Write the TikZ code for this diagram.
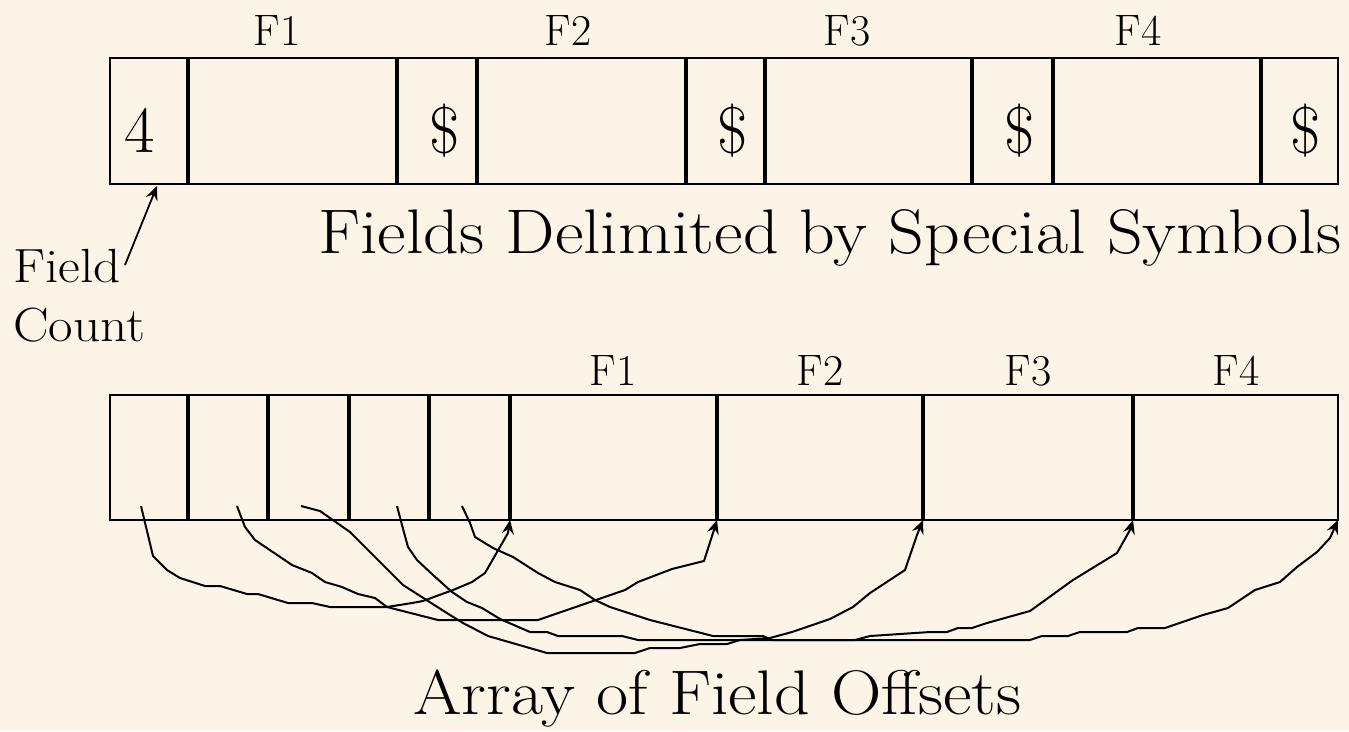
\documentclass[tikz,border=0pt]{standalone}
\usetikzlibrary{arrows.meta,positioning}
\definecolor{paper}{HTML}{FDF4E8}
\newcommand{\widetext}[1]{\scalebox{1.11}[1]{#1}}
\begin{document}
\begin{tikzpicture}[x=1pt,y=-1pt,>={Stealth[length=14pt,width=12pt,inset=5pt]},
    cell/.style={draw,line width=2.2pt,inner sep=0pt,outer sep=0pt},
    divider/.style={line width=3.4pt},
    flabel/.style={font=\fontsize{44}{48}\selectfont,anchor=base},
    symb/.style={font=\fontsize{66}{70}\selectfont},
    title/.style={font=\fontsize{63}{70}\selectfont,anchor=base west,inner sep=0pt},
    ptr/.style={->,line width=2pt,line join=round}]
\fill[paper](0,0)rectangle(1349,731);

% fields delimited by special symbols
\node[cell,minimum height=126pt,minimum width=78pt,anchor=north west](t0)at(110,58){};
\node[cell,minimum height=126pt,minimum width=209pt,right=0pt of t0](t1){};
\node[cell,minimum height=126pt,minimum width=80pt,right=0pt of t1](t2){};
\node[cell,minimum height=126pt,minimum width=209pt,right=0pt of t2](t3){};
\node[cell,minimum height=126pt,minimum width=79pt,right=0pt of t3](t4){};
\node[cell,minimum height=126pt,minimum width=207pt,right=0pt of t4](t5){};
\node[cell,minimum height=126pt,minimum width=81pt,right=0pt of t5](t6){};
\node[cell,minimum height=126pt,minimum width=208pt,right=0pt of t6](t7){};
\node[cell,minimum height=126pt,minimum width=77pt,right=0pt of t7](t8){};
\foreach \c in {t1,t2,t3,t4,t5,t6,t7,t8}
    \draw[divider](\c.north west)--(\c.south west);
\node[symb](cnt)at(140,130){4};
\node[symb](d1)at(445,131){\$};
\node[symb](d2)at(733,131){\$};
\node[symb](d3)at(1020,131){\$};
\node[symb](d4)at(1306,131){\$};
\node[flabel](tf1)at(277,45){F1};
\node[flabel](tf2)at(568,45){F2};
\node[flabel](tf3)at(847,45){F3};
\node[flabel](tf4)at(1138,45){F4};
\node[title](ttl)at(318,253){\widetext{Fields Delimited by Special Symbols}};

% field count
\node[font=\fontsize{48}{59}\selectfont,align=left,anchor=north west,inner sep=0pt](fc)at(13,249){\widetext{Field}\\\widetext{Count}};
\coordinate(fcs)at(125,265);
\coordinate(fct)at(157,186);
\draw[->,line width=1.8pt](fcs)--(fct);

% array of field offsets
\node[cell,minimum height=125pt,minimum width=78pt,anchor=north west](b0)at(110,395){};
\node[cell,minimum height=125pt,minimum width=80pt,right=0pt of b0](b1){};
\node[cell,minimum height=125pt,minimum width=81pt,right=0pt of b1](b2){};
\node[cell,minimum height=125pt,minimum width=80pt,right=0pt of b2](b3){};
\node[cell,minimum height=125pt,minimum width=81pt,right=0pt of b3](b4){};
\node[cell,minimum height=125pt,minimum width=207pt,right=0pt of b4](b5){};
\node[cell,minimum height=125pt,minimum width=206pt,right=0pt of b5](b6){};
\node[cell,minimum height=125pt,minimum width=210pt,right=0pt of b6](b7){};
\node[cell,minimum height=125pt,minimum width=205pt,right=0pt of b7](b8){};
\foreach \c in {b1,b2,b3,b4,b5,b6,b7,b8}
    \draw[divider](\c.north west)--(\c.south west);
\node[flabel](bf1)at(613,385){F1};
\node[flabel](bf2)at(820,385){F2};
\node[flabel](bf3)at(1028,385){F3};
\node[flabel](bf4)at(1236,385){F4};
\node[title](btl)at(413,714){\widetext{Array of Field Offsets}};

\coordinate(o1)at(141,506);
\coordinate(o2)at(237,506);
\coordinate(o3)at(301,506);
\coordinate(o4)at(397,506);
\coordinate(o5)at(462,506);
\draw[ptr](o1)--(153,556)--(167,570)--(180,578)--(205,586)--(220,586)--(247,594)--(258,594)
    --(288,603)--(312,603)--(330,607)--(387,607)--(412,603)--(423,601)--(453,590)--(472,582)
    --(485,573)--(508,533)--(b5.south west);
\draw[ptr](o2)--(245,527)--(255,540)--(292,565)--(312,573)--(325,582)--(342,587)--(358,594)
    --(375,598)--(387,607)--(438,620)--(538,620)--(625,590)--(638,582)--(672,569)--(704,561)
    --(713,533)--(b6.south west);
\draw[ptr](o3)--(320,511)--(350,532)--(403,585)--(450,615)--(463,623)--(488,636)--(547,653)
    --(635,653)--(650,648)--(680,648)--(700,644)--(727,644)--(740,640)--(770,638)--(792,632)
    --(830,619)--(853,607)--(870,593)--(905,570)--(917,535)--(b7.south west);
\draw[ptr](o4)--(402,525)--(408,547)--(417,560)--(433,575)--(452,592)--(467,602)--(482,608)
    --(500,619)--(530,632)--(547,632)--(558,636)--(622,636)--(638,640)--(855,640)--(870,636)
    --(930,632)--(947,632)--(958,628)--(972,628)--(987,623)--(1030,611)--(1073,580)--(1117,553)
    --(1130,530)--(b8.south west);
\draw[ptr](o5)--(470,523)--(475,537)--(493,548)--(513,557)--(538,573)--(555,582)--(580,590)
    --(595,600)--(610,607)--(650,620)--(713,636)--(763,636)--(772,640)--(1030,640)--(1042,636)
    --(1068,636)--(1080,632)--(1127,632)--(1138,628)--(1165,628)--(1203,615)--(1228,608)
    --(1255,590)--(1280,582)--(1297,567)--(1317,552)--(1330,538)--(b8.south east);
\end{tikzpicture}
\end{document}
